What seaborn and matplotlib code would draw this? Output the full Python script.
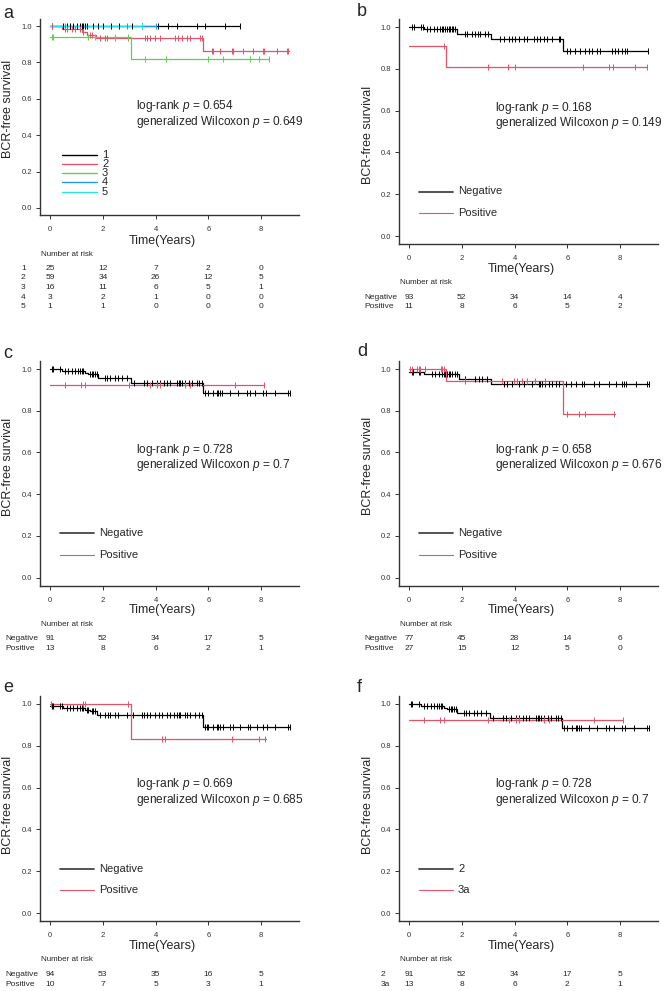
import numpy as np
import matplotlib
matplotlib.use("Agg")
import matplotlib.pyplot as plt
import matplotlib.transforms as mtransforms
from matplotlib.lines import Line2D
import seaborn as sns

sns.set_style("ticks")
plt.rcParams["font.family"] = ["Liberation Sans", "DejaVu Sans"]
plt.rcParams["mathtext.fontset"] = "custom"
plt.rcParams["mathtext.it"] = "Liberation Sans:italic"
plt.rcParams["mathtext.rm"] = "Liberation Sans"

# ---------------------------------------------------------------- data
x_ticks = [0, 2, 4, 6, 8]
y_ticks = [0.0, 0.2, 0.4, 0.6, 0.8, 1.0]
y_ticklabels = ["0.0", "0.2", "0.4", "0.6", "0.8", "1.0"]

# panel a : groups 1..5
a_labels = ["1", "2", "3", "4", "5"]
a1_t = [0.0]; a1_s = [1.0]; a1_end = 7.2
a1_cens = [0.07, 0.5, 0.64, 0.76, 0.88, 1.01, 1.14, 1.2, 1.26, 1.33, 1.39, 1.64, 1.83,
           2.02, 2.3, 2.6, 3.1, 3.5, 4.1, 4.48, 4.8, 5.55, 5.87, 6.63, 7.2]
a2_t = [0.0, 0.45, 1.2, 1.4, 1.75, 5.8]; a2_s = [1.0, 0.983, 0.966, 0.949, 0.932, 0.86]; a2_end = 9.05
a2_cens = [0.07, 0.57, 0.63, 0.82, 0.95, 1.14, 1.26, 1.5, 1.6, 1.9, 2.08, 2.15, 2.46, 2.97,
           3.6, 3.66, 3.79, 3.98, 4.17, 4.73, 4.86, 4.99, 5.18, 5.3, 5.68, 5.74, 6.12, 6.19,
           6.44, 6.88, 6.94, 7.32, 7.7, 8.05, 8.12, 8.59, 8.96, 9.03]
a3_t = [0.0, 3.05]; a3_s = [0.9375, 0.82]; a3_end = 8.3
a3_cens = [0.06, 0.13, 1.45, 1.7, 2.46, 2.97, 3.6, 4.39, 5.97, 6.57, 7.58, 7.9, 8.3]
a4_t = [0.0]; a4_s = [1.0]; a4_end = 4.0
a4_cens = [0.57, 2.9, 4.0]
a5_t = [0.0]; a5_s = [1.0]; a5_end = 3.47
a5_cens = [3.47]
a_risk = [[25, 12, 7, 2, 0], [59, 34, 26, 12, 5], [16, 11, 6, 5, 1], [3, 2, 1, 0, 0], [1, 1, 0, 0, 0]]
a_p = ("0.654", "0.649")

# panel b
b_labels = ["Negative", "Positive"]
bn_t = [0.0, 0.55, 1.83, 3.09, 5.85]; bn_s = [1.0, 0.989, 0.967, 0.944, 0.887]; bn_end = 9.07
bn_cens = [0.1, 0.19, 0.44, 0.52, 0.67, 0.8, 0.93, 1.05, 1.17, 1.24, 1.3, 1.36, 1.43, 1.5,
           1.56, 1.62, 1.68, 1.74, 2.12, 2.18, 2.37, 2.5, 2.62, 2.69, 2.88, 3.0, 3.45, 3.58,
           3.77, 3.9, 4.02, 4.15, 4.34, 4.47, 4.72, 4.85, 4.97, 5.1, 5.23, 5.42, 5.67, 5.72,
           5.97, 6.1, 6.29, 6.48, 6.67, 6.8, 6.93, 7.12, 7.23, 7.68, 7.81, 7.93, 8.06, 8.19,
           8.25, 9.07]
bp_t = [0.0, 1.40]; bp_s = [0.909, 0.808]; bp_end = 9.0
bp_cens = [1.33, 3.0, 3.76, 4.02, 6.58, 7.59, 7.71, 8.56, 9.0]
b_risk = [[93, 52, 34, 14, 4], [11, 8, 6, 5, 2]]
b_p = ("0.168", "0.149")

# panel c (and f, same cohort split)
c_labels = ["Negative", "Positive"]
cn_t = [0.0, 0.44, 1.33, 1.45, 1.83, 3.06, 5.81]
cn_s = [1.0, 0.99, 0.982, 0.974, 0.957, 0.934, 0.886]; cn_end = 9.09
cn_cens = [0.06, 0.13, 0.38, 0.57, 0.7, 0.82, 0.95, 1.07, 1.14, 1.2, 1.26, 1.52, 1.58, 1.64,
           1.71, 1.77, 2.08, 2.15, 2.27, 2.46, 2.59, 2.71, 2.9, 3.17, 3.55, 3.68, 3.87, 4.06,
           4.18, 4.31, 4.44, 4.56, 4.81, 4.88, 4.94, 5.0, 5.13, 5.25, 5.38, 5.57, 5.63, 5.75,
           5.87, 6.0, 6.19, 6.31, 6.38, 6.44, 6.5, 6.82, 7.13, 7.45, 7.57, 7.77, 8.08, 8.2,
           8.52, 9.02, 9.09]
cp_t = [0.0]; cp_s = [0.923]; cp_end = 8.1
cp_cens = [0.57, 1.16, 1.33, 3.0, 3.79, 4.04, 4.17, 5.11, 5.3, 7.0, 8.1]
c_risk = [[91, 52, 34, 17, 5], [13, 8, 6, 2, 1]]
c_p = ("0.728", "0.7")

# panel d
d_labels = ["Negative", "Positive"]
dn_t = [0.0, 0.55, 1.88, 3.12]; dn_s = [0.987, 0.976, 0.952, 0.93]; dn_end = 9.08
dn_cens = [0.1, 0.15, 0.36, 0.42, 0.86, 0.99, 1.12, 1.25, 1.31, 1.37, 1.43, 1.5, 1.56, 1.62,
           1.75, 1.83, 2.13, 2.51, 2.64, 2.77, 2.96, 3.59, 3.72, 3.91, 4.16, 4.35, 4.66, 4.92,
           4.98, 5.05, 5.17, 5.3, 5.43, 5.55, 5.68, 5.93, 6.12, 6.31, 6.56, 6.62, 7.0, 7.2,
           7.58, 7.83, 8.08, 8.14, 8.21, 8.59, 9.03, 9.08]
dp_t = [0.0, 1.41, 5.82]; dp_s = [1.0, 0.944, 0.786]; dp_end = 7.8
dp_cens = [0.05, 0.1, 0.3, 0.36, 0.42, 0.6, 1.2, 1.26, 1.31, 2.13, 3.52, 3.96, 4.09, 4.28,
           4.47, 4.78, 5.16, 5.98, 6.43, 6.68, 7.75]
d_risk = [[77, 45, 28, 14, 6], [27, 15, 12, 5, 0]]
d_p = ("0.658", "0.676")

# panel e
e_labels = ["Negative", "Positive"]
en_t = [0.0, 0.5, 1.33, 1.5, 1.77, 5.81]; en_s = [0.989, 0.981, 0.973, 0.965, 0.947, 0.89]
en_end = 9.09
en_cens = [0.06, 0.13, 0.38, 0.44, 0.63, 0.76, 0.88, 1.01, 1.14, 1.2, 1.26, 1.39, 1.45, 1.58,
           1.64, 1.7, 1.9, 2.08, 2.21, 2.27, 2.46, 2.59, 2.9, 3.16, 3.48, 3.55, 3.68, 3.8,
           3.99, 4.12, 4.25, 4.44, 4.56, 4.69, 4.81, 4.88, 4.94, 5.13, 5.19, 5.32, 5.5, 5.63,
           5.75, 5.87, 5.94, 6.0, 6.19, 6.31, 6.38, 6.44, 6.57, 6.82, 6.94, 7.2, 7.51, 7.57,
           7.83, 8.08, 8.21, 8.52, 9.02, 9.09]
ep_t = [0.0, 3.05]; ep_s = [1.0, 0.833]; ep_end = 8.2
ep_cens = [0.03, 1.26, 1.33, 2.97, 4.23, 4.36, 6.9, 7.9, 8.14]
e_risk = [[94, 53, 35, 16, 5], [10, 7, 5, 3, 1]]
e_p = ("0.669", "0.685")

# panel f
f_labels = ["2", "3a"]
f_risk = [[91, 52, 34, 17, 5], [13, 8, 6, 2, 1]]
f_p = ("0.728", "0.7")

# ---------------------------------------------------------------- styling
R_BLACK = "#000000"
R_RED = "#DF536B"
R_GREEN = "#61D04F"
R_BLUE = "#2297E6"
R_CYAN = "#28E2E5"

W, H = 664, 991
fig = plt.figure(figsize=(W / 100, H / 100), dpi=100)
fig.patch.set_facecolor("white")

PXY = 26.4          # pixels per year
XLIM = (-0.36, 9.45)
YLIM = (-0.04, 1.04)


def fx(x):
    return x / W


def fy(y):
    return 1 - y / H


def step_level(times, levels, t):
    i = np.searchsorted(times, t, side="right") - 1
    return levels[max(i, 0)]


def draw_curve(ax, times, levels, end, cens, color, lw=0.9):
    xs = list(times) + [end]
    ys = list(levels) + [levels[-1]]
    sns.lineplot(x=xs, y=ys, ax=ax, color=color, lw=lw, drawstyle="steps-post",
                 estimator=None, sort=False, legend=False)
    cy = [step_level(times, levels, t) for t in cens]
    sns.scatterplot(x=cens, y=cy, ax=ax, marker="|", color=color, s=16,
                    linewidth=0.7, legend=False, zorder=3)


def make_panel(letter, x0, y1, y0, curves, risk, row_labels, row_label_x, pvals,
               legend_items, legend_geom, ylabel_xy, letter_xy, nrow_sp=10.0, row0=61):
    s = y0 - y1
    left = x0 + XLIM[0] * PXY
    width = (XLIM[1] - XLIM[0]) * PXY
    bottom = y0 - YLIM[0] * s
    top = y0 - YLIM[1] * s
    ax = fig.add_axes([fx(left), fy(bottom), width / W, (bottom - top) / H])
    for c in curves:
        draw_curve(ax, *c)
    ax.set_xlim(*XLIM)
    ax.set_ylim(*YLIM)
    ax.set_xticks(x_ticks)
    ax.set_xticklabels([str(v) for v in x_ticks])
    ax.set_yticks(y_ticks)
    ax.set_yticklabels(y_ticklabels)
    ax.tick_params(axis="both", labelsize=5.5, length=3, width=0.7, colors="#333333",
                   direction="out")
    ax.tick_params(axis="x", pad=5)
    ax.tick_params(axis="y", pad=3)
    for sp in ["top", "right"]:
        ax.spines[sp].set_visible(False)
    for sp in ["left", "bottom"]:
        ax.spines[sp].set_linewidth(1.0)
        ax.spines[sp].set_color("#333333")
    ax.set_xlabel("")
    ax.set_ylabel("")
    ax.set_facecolor("white")

    # axis titles
    fig.text(fx(x0 + 4.25 * PXY), fy(y0 + 33), "Time(Years)", ha="center", va="center",
             fontsize=9)
    fig.text(fx(ylabel_xy[0]), fy(ylabel_xy[1]), "BCR-free survival", rotation=90,
             ha="center", va="center", fontsize=9)
    fig.text(fx(letter_xy[0]), fy(letter_xy[1]), letter, ha="left", va="center",
             fontsize=13)

    # p-values
    fig.text(fx(x0 + 86), fy(y1 + 80.5), "log-rank $p$ = " + pvals[0], ha="left",
             va="center", fontsize=8.6)
    fig.text(fx(x0 + 86), fy(y1 + 96), "generalized Wilcoxon $p$ = " + pvals[1],
             ha="left", va="center", fontsize=8.6)

    # legend
    lx0, lx1, ly_list, lws = legend_geom
    for (lab, col), ly, lwv in zip(legend_items, ly_list, lws):
        fig.add_artist(Line2D([fx(lx0), fx(lx1)], [fy(ly), fy(ly)], color=col, lw=lwv,
                              transform=fig.transFigure))
        fig.text(fx(lx1 + 5), fy(ly), lab, ha="left", va="center", fontsize=8)

    # number at risk table
    fig.text(fx(left + 0.5), fy(y0 + 46.5), "Number at risk", ha="left", va="center",
             fontsize=5.8)
    trans = mtransforms.blended_transform_factory(ax.transData, fig.transFigure)
    for i, (lab, vals) in enumerate(zip(row_labels, risk)):
        yy = y0 + row0 + i * nrow_sp
        fig.text(fx(row_label_x), fy(yy), lab, ha="left", va="center", fontsize=6)
        for t, v in zip(x_ticks, vals):
            ax.text(t, fy(yy), str(v), transform=trans, ha="center", va="center",
                    fontsize=6, clip_on=False)
    return ax


# panel a
make_panel(
    "a", 50, 26, 208,
    [(a1_t, a1_s, a1_end, a1_cens, R_BLACK),
     (a2_t, a2_s, a2_end, a2_cens, R_RED),
     (a3_t, a3_s, a3_end, a3_cens, R_GREEN),
     (a4_t, a4_s, a4_end, a4_cens, R_BLUE),
     (a5_t, a5_s, a5_end, a5_cens, R_CYAN)],
    a_risk, a_labels, 21, a_p,
    list(zip(a_labels, [R_BLACK, R_RED, R_GREEN, R_BLUE, R_CYAN])),
    (62, 97, [155, 164, 173, 182, 192], [1.0] * 5),
    (8, 109), (3, 13), nrow_sp=9.75, row0=60)

# panel b
make_panel(
    "b", 409, 27, 236,
    [(bn_t, bn_s, bn_end, bn_cens, R_BLACK),
     (bp_t, bp_s, bp_end, bp_cens, R_RED)],
    b_risk, b_labels, 364, b_p,
    list(zip(b_labels, ["#444444", R_RED])),
    (419, 453, [236 - 44.5, 236 - 23], [1.3, 0.8]),
    (368, 135), (357, 12))

# panel c
make_panel(
    "c", 50, 369, 577.5,
    [(cn_t, cn_s, cn_end, cn_cens, R_BLACK),
     (cp_t, cp_s, cp_end, cp_cens, R_RED)],
    c_risk, c_labels, 5, c_p,
    list(zip(c_labels, ["#444444", R_RED])),
    (60, 94, [577.5 - 44.5, 577.5 - 23], [1.3, 0.8]),
    (8, 467), (3, 353))

# panel d
make_panel(
    "d", 409, 369, 577.5,
    [(dn_t, dn_s, dn_end, dn_cens, R_BLACK),
     (dp_t, dp_s, dp_end, dp_cens, R_RED)],
    d_risk, d_labels, 364, d_p,
    list(zip(d_labels, ["#444444", R_RED])),
    (419, 453, [577.5 - 44.5, 577.5 - 23], [1.3, 0.8]),
    (368, 466), (357, 352))

# panel e
make_panel(
    "e", 50, 704, 913,
    [(en_t, en_s, en_end, en_cens, R_BLACK),
     (ep_t, ep_s, ep_end, ep_cens, R_RED)],
    e_risk, e_labels, 5, e_p,
    list(zip(e_labels, ["#444444", R_RED])),
    (60, 94, [913 - 44.5, 913 - 23], [1.3, 0.8]),
    (8, 805), (3, 687))

# panel f
make_panel(
    "f", 409, 704, 913,
    [(cn_t, cn_s, cn_end, cn_cens, R_BLACK),
     (cp_t, cp_s, cp_end, cp_cens, R_RED)],
    f_risk, f_labels, 381, f_p,
    list(zip(f_labels, ["#444444", R_RED])),
    (419, 453, [913 - 44.5, 913 - 23], [1.3, 0.8]),
    (368, 805), (357, 687))

fig.savefig("out.png", dpi=100)
